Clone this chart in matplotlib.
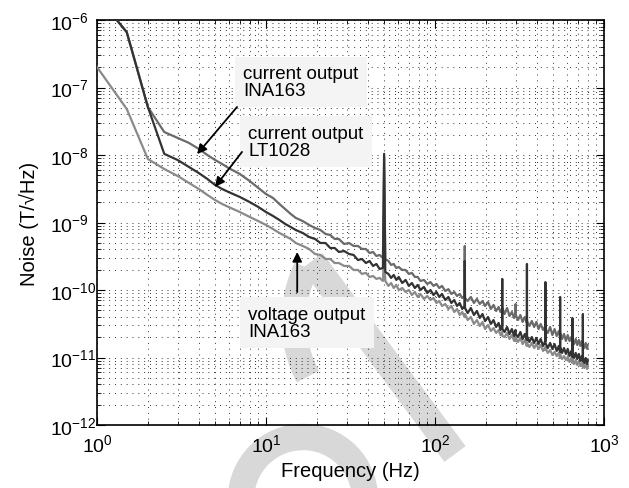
import matplotlib
matplotlib.use('Agg')
import matplotlib.pyplot as plt
import numpy as np
from matplotlib import patches
from matplotlib.lines import Line2D
from matplotlib.ticker import LogLocator, NullFormatter

plt.rcParams['font.family'] = ['Liberation Sans', 'DejaVu Sans']
plt.rcParams['mathtext.fontset'] = 'custom'
plt.rcParams['mathtext.rm'] = 'Liberation Sans'
plt.rcParams['mathtext.it'] = 'Liberation Sans:italic'
plt.rcParams['mathtext.bf'] = 'Liberation Sans:bold'

# frequency grid (Hz), shared by the three spectra
freq = [
    1.0, 1.5, 2.0, 2.5, 3.0, 3.5, 4.0, 4.5, 5.0, 5.5,
    6, 7, 8, 9, 10, 11, 12, 13, 14, 15,
    16.5, 18, 19.5, 21, 22.5, 24, 25.5, 27, 29, 31,
    33, 35, 37, 39, 41, 43, 45, 47, 49.2, 50,
    50.8, 53, 55, 57, 59, 61, 64, 67, 70, 73,
    76, 79, 82, 86, 90, 94, 98, 102, 106, 110,
    115, 120, 125, 130, 135, 140, 145, 149.5, 150, 150.5,
    156, 163, 170, 177, 184, 191, 198, 206, 214, 222,
    230, 238, 244, 249.5, 250, 250.5, 258, 267, 276, 285,
    294, 299.5, 300, 300.5, 310, 320, 330, 340, 349.5, 350,
    350.5, 362, 374, 386, 398, 410, 422, 436, 449.5, 450,
    450.5, 465, 480, 495, 510, 525, 540, 549.5, 550, 550.5,
    565, 580, 595, 610, 625, 640, 649.5, 650, 650.5, 665,
    680, 695, 710, 725, 740, 749.5, 750, 750.5, 765, 780,
    795, 800]

# current output, INA163 (T/sqrt(Hz))
noise_cur_ina = [
    2.27e-6, 6.6e-7, 5.14e-8, 2.19e-8, 1.79e-8, 1.51e-8, 1.23e-8, 1.0e-8, 8.43e-9, 7.36e-9,
    6.42e-9, 5.23e-9, 4.12e-9, 3.25e-9, 2.64e-9, 2.31e-9, 1.88e-9, 1.58e-9, 1.34e-9, 1.17e-9,
    1.05e-9, 9.19e-10, 8.29e-10, 7.74e-10, 6.76e-10, 6.53e-10, 5.70e-10, 5.70e-10, 4.80e-10, 4.97e-10,
    4.49e-10, 4.49e-10, 4.05e-10, 4.05e-10, 3.53e-10, 3.66e-10, 3.19e-10, 3.30e-10, 2.98e-10, 9.35e-9,
    2.88e-10, 2.69e-10, 2.35e-10, 2.43e-10, 2.12e-10, 2.19e-10, 1.98e-10, 1.98e-10, 1.73e-10, 1.79e-10,
    1.56e-10, 1.56e-10, 1.36e-10, 1.41e-10, 1.23e-10, 1.31e-10, 1.15e-10, 1.23e-10, 1.07e-10, 1.15e-10,
    9.67e-11, 1.03e-10, 8.73e-11, 9.35e-11, 8.15e-11, 8.73e-11, 7.61e-11, 8.15e-11, 4.49e-10, 7.61e-11,
    6.87e-11, 7.88e-11, 6.42e-11, 7.36e-11, 6.20e-11, 6.87e-11, 5.80e-11, 6.64e-11, 5.23e-11, 6.00e-11,
    4.89e-11, 5.60e-11, 4.72e-11, 5.23e-11, 5.23e-11, 5.41e-11, 4.41e-11, 5.41e-11, 4.12e-11, 4.72e-11,
    3.85e-11, 4.41e-11, 6.20e-11, 4.26e-11, 3.59e-11, 4.26e-11, 3.36e-11, 3.98e-11, 3.25e-11, 3.72e-11,
    3.47e-11, 2.93e-11, 3.47e-11, 2.83e-11, 3.36e-11, 2.64e-11, 3.14e-11, 2.56e-11, 2.93e-11, 2.93e-11,
    2.64e-11, 2.31e-11, 2.83e-11, 2.15e-11, 2.64e-11, 2.08e-11, 2.47e-11, 2.01e-11, 2.31e-11, 2.31e-11,
    1.88e-11, 2.23e-11, 1.76e-11, 2.15e-11, 1.76e-11, 2.01e-11, 1.64e-11, 1.88e-11, 1.88e-11, 1.58e-11,
    1.88e-11, 1.53e-11, 1.82e-11, 1.48e-11, 1.76e-11, 1.48e-11, 1.70e-11, 1.64e-11, 1.38e-11, 1.64e-11,
    1.34e-11, 1.53e-11]

# current output, LT1028
noise_cur_lt = [
    2.27e-6, 6.6e-7, 5.14e-8, 1.04e-8, 8.43e-9, 6.64e-9, 5.41e-9, 4.41e-9, 3.59e-9, 3.14e-9,
    2.83e-9, 2.39e-9, 2.01e-9, 1.70e-9, 1.43e-9, 1.25e-9, 1.09e-9, 9.50e-10, 8.58e-10, 7.74e-10,
    6.99e-10, 6.10e-10, 5.70e-10, 4.97e-10, 4.97e-10, 4.19e-10, 4.19e-10, 3.66e-10, 3.78e-10, 3.42e-10,
    3.30e-10, 2.78e-10, 2.88e-10, 2.51e-10, 2.69e-10, 2.27e-10, 2.43e-10, 2.05e-10, 2.12e-10, 1.04e-8,
    1.85e-10, 1.73e-10, 1.51e-10, 1.67e-10, 1.41e-10, 1.56e-10, 1.27e-10, 1.41e-10, 1.15e-10, 1.27e-10,
    1.07e-10, 1.19e-10, 1.00e-10, 1.11e-10, 9.03e-11, 1.00e-10, 8.43e-11, 9.35e-11, 7.88e-11, 8.73e-11,
    7.11e-11, 7.88e-11, 6.42e-11, 7.11e-11, 5.80e-11, 6.42e-11, 5.23e-11, 5.80e-11, 2.69e-10, 5.41e-11,
    4.56e-11, 5.41e-11, 4.26e-11, 4.89e-11, 3.85e-11, 4.41e-11, 3.47e-11, 3.98e-11, 3.14e-11, 3.59e-11,
    2.83e-11, 3.25e-11, 2.56e-11, 2.93e-11, 1.46e-10, 2.64e-11, 2.39e-11, 2.83e-11, 2.23e-11, 2.64e-11,
    2.08e-11, 2.56e-11, 2.31e-11, 2.23e-11, 2.01e-11, 2.39e-11, 1.88e-11, 2.23e-11, 1.82e-11, 2.43e-10,
    2.08e-11, 1.70e-11, 2.01e-11, 1.64e-11, 1.95e-11, 1.58e-11, 1.88e-11, 1.48e-11, 1.76e-11, 1.31e-10,
    1.64e-11, 1.38e-11, 1.64e-11, 1.34e-11, 1.58e-11, 1.25e-11, 1.48e-11, 1.21e-11, 7.88e-11, 1.43e-11,
    1.17e-11, 1.38e-11, 1.13e-11, 1.34e-11, 1.05e-11, 1.25e-11, 1.02e-11, 3.85e-11, 1.21e-11, 9.83e-12,
    1.17e-11, 9.50e-12, 1.13e-11, 8.88e-12, 1.05e-11, 8.88e-12, 4.41e-11, 1.02e-11, 8.29e-12, 9.83e-12,
    8.01e-12, 9.19e-12]

# voltage output, INA163
noise_volt_ina = [
    2.01e-7, 4.80e-8, 8.73e-9, 6.20e-9, 4.89e-9, 3.85e-9, 3.14e-9, 2.56e-9, 2.15e-9, 1.88e-9,
    1.70e-9, 1.43e-9, 1.21e-9, 1.05e-9, 9.19e-10, 8.01e-10, 6.99e-10, 6.31e-10, 5.70e-10, 4.97e-10,
    4.49e-10, 4.05e-10, 3.42e-10, 3.30e-10, 2.88e-10, 2.88e-10, 2.51e-10, 2.51e-10, 2.27e-10, 2.27e-10,
    1.98e-10, 1.98e-10, 1.73e-10, 1.79e-10, 1.56e-10, 1.61e-10, 1.46e-10, 1.51e-10, 1.36e-10, 4.05e-10,
    1.36e-10, 1.15e-10, 1.27e-10, 1.07e-10, 1.19e-10, 1.00e-10, 1.07e-10, 9.35e-11, 1.00e-10, 8.43e-11,
    9.35e-11, 7.88e-11, 8.73e-11, 7.36e-11, 8.15e-11, 7.11e-11, 7.61e-11, 6.42e-11, 6.87e-11, 5.80e-11,
    6.20e-11, 5.23e-11, 5.80e-11, 4.72e-11, 5.23e-11, 4.26e-11, 4.72e-11, 3.98e-11, 4.26e-11, 4.41e-11,
    3.59e-11, 3.98e-11, 3.14e-11, 3.59e-11, 2.93e-11, 3.36e-11, 2.64e-11, 3.03e-11, 2.47e-11, 2.73e-11,
    2.31e-11, 2.56e-11, 2.15e-11, 2.39e-11, 2.15e-11, 2.08e-11, 2.01e-11, 2.31e-11, 1.88e-11, 2.15e-11,
    1.76e-11, 2.01e-11, 1.76e-11, 1.95e-11, 1.70e-11, 1.95e-11, 1.58e-11, 1.82e-11, 1.48e-11, 1.70e-11,
    1.64e-11, 1.43e-11, 1.64e-11, 1.38e-11, 1.58e-11, 1.34e-11, 1.53e-11, 1.25e-11, 1.43e-11, 1.29e-11,
    1.38e-11, 1.17e-11, 1.29e-11, 1.09e-11, 1.21e-11, 1.05e-11, 1.17e-11, 9.83e-12, 1.13e-11, 1.09e-11,
    9.50e-12, 1.05e-11, 9.19e-12, 1.02e-11, 8.58e-12, 9.83e-12, 8.29e-12, 9.50e-12, 9.19e-12, 8.01e-12,
    9.19e-12, 7.74e-12, 8.88e-12, 7.48e-12, 8.29e-12, 7.23e-12, 8.29e-12, 8.01e-12, 6.99e-12, 8.01e-12,
    6.76e-12, 7.48e-12]

W, H = 629, 489
fig = plt.figure(figsize=(W / 100, H / 100), dpi=100)
ax = fig.add_axes([97 / W, 1 - 426 / H, 507 / W, 405 / H])
ax.set_facecolor('none')

# light grey watermark strokes behind the plot (figure pixel coords, y down)
wm = '#d8d8d8'
fig.add_artist(Line2D([312 / W, 455 / W], [1 - 262 / H, 1 - 455 / H],
                      transform=fig.transFigure, color=wm, lw=19,
                      solid_capstyle='butt', zorder=-1))
fig.add_artist(patches.Arc((415 / W, 1 - 321.5 / H), 2 * 121 / W, 2 * 121 / H,
                           theta1=148, theta2=214, transform=fig.transFigure,
                           color=wm, lw=18, zorder=-1))
fig.add_artist(patches.Arc((303 / W, 1 - 500 / H), 2 * 62 / W, 2 * 62 / H,
                           theta1=0, theta2=180, transform=fig.transFigure,
                           color=wm, lw=19, zorder=-1))

f = np.array(freq)
ax.plot(f, noise_volt_ina, color='#8a8a8a', lw=1.6, zorder=3)
ax.plot(f, noise_cur_ina, color='#6a6a6a', lw=1.6, zorder=3)
ax.plot(f, noise_cur_lt, color='#333333', lw=1.6, zorder=3)

ax.set_xscale('log')
ax.set_yscale('log')
ax.set_xlim(1, 1000)
ax.set_ylim(1e-12, 1e-6)
for axis in (ax.xaxis, ax.yaxis):
    axis.set_major_locator(LogLocator(base=10, numticks=12))
    axis.set_minor_locator(LogLocator(base=10, subs=np.arange(2, 10), numticks=12))
    axis.set_minor_formatter(NullFormatter())

ax.tick_params(which='both', direction='in', top=True, right=True, labelsize=14)
ax.tick_params(which='major', length=6, width=0.8)
ax.tick_params(which='minor', length=3, width=0.6)
ax.tick_params(axis='y', pad=34)
ax.tick_params(axis='x', pad=6)
for lab in ax.get_yticklabels():
    lab.set_horizontalalignment('left')
ax.grid(True, which='both', ls=(0, (1, 5)), lw=0.7, color='0.2')
for s in ax.spines.values():
    s.set_linewidth(1.2)

ax.set_xlabel('Frequency (Hz)', fontsize=14.5, labelpad=4)
ax.set_ylabel('Noise (T/\u221aHz)', fontsize=14.5, labelpad=8)

box = dict(boxstyle='square,pad=0.45', fc='#f4f4f4', ec='none')
ax.text(0.288, 0.889, 'current output\nINA163', transform=ax.transAxes,
        fontsize=13.5, va='top', ha='left', linespacing=1.0, bbox=box, zorder=6)
ax.text(0.298, 0.741, 'current output\nLT1028', transform=ax.transAxes,
        fontsize=13.5, va='top', ha='left', linespacing=1.0, bbox=box, zorder=6)
ax.text(0.298, 0.295, 'voltage output\nINA163', transform=ax.transAxes,
        fontsize=13.5, va='top', ha='left', linespacing=1.0, bbox=box, zorder=6)

arrow = dict(arrowstyle='-|>', color='k', lw=1.3, mutation_scale=14, shrinkA=0, shrinkB=0)
ax.annotate('', xy=(3.91, 1.03e-8), xytext=(6.74, 5.14e-8), arrowprops=arrow, zorder=7)
ax.annotate('', xy=(4.99, 3.36e-9), xytext=(7.21, 1.11e-8), arrowprops=arrow, zorder=7)
ax.annotate('', xy=(15.3, 3.66e-10), xytext=(15.3, 9.3e-11), arrowprops=arrow, zorder=7)

fig.savefig('out.png', dpi=100)
